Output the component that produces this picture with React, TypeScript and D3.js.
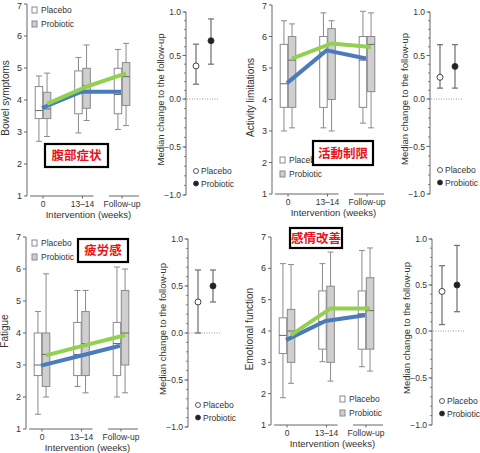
import React from 'react';
import * as d3 from 'd3';

const weeks = ['0', '13–14', 'Follow-up'];
const groups = ['Placebo', 'Probiotic'];
const boxTicks = [1, 2, 3, 4, 5, 6, 7];
const changeTicks = [-1, -0.5, 0, 0.5, 1];

// box stats per week: [min, q1, median, q3, max]
const bowelPlacebo = [[2.71, 3.42, 3.67, 4.42, 4.75], [2.97, 3.57, 4.2, 4.91, 5.33], [3.08, 3.57, 4.17, 4.99, 5.58]];
const bowelProbiotic = [[2.86, 3.42, 3.72, 4.24, 4.84], [3.36, 3.74, 4.45, 4.99, 5.72], [3.2, 3.83, 4.73, 5.17, 5.77]];
const bowelPlaceboTrend = [3.75, 4.26, 4.26];
const bowelProbioticTrend = [3.88, 4.42, 4.83];
// median change: [median, low, high]
const bowelChangePlacebo = [0.38, 0.17, 0.63];
const bowelChangeProbiotic = [0.67, 0.4, 0.92];

const activityPlacebo = [[3.0, 3.75, 4.5, 5.75, 6.5], [3.1, 3.75, 5.5, 6.0, 6.75], [3.25, 3.75, 5.25, 6.0, 6.8]];
const activityProbiotic = [[3.1, 3.75, 5.25, 6.0, 6.4], [3.0, 4.0, 5.75, 6.25, 6.5], [3.1, 4.25, 5.75, 6.0, 6.75]];
const activityPlaceboTrend = [4.52, 5.56, 5.3];
const activityProbioticTrend = [5.3, 5.78, 5.67];
const activityChangePlacebo = [0.25, 0.125, 0.625];
const activityChangeProbiotic = [0.375, 0.125, 0.625];

const fatiguePlacebo = [[1.46, 2.67, 3.0, 4.0, 4.67], [2.33, 2.67, 3.33, 4.33, 5.33], [2.0, 2.67, 3.67, 4.33, 6.06]];
const fatigueProbiotic = [[2.0, 2.33, 3.33, 4.0, 5.85], [2.13, 2.67, 3.67, 4.67, 5.33], [2.13, 3.0, 4.0, 5.33, 6.0]];
const fatiguePlaceboTrend = [2.98, 3.29, 3.6];
const fatigueProbioticTrend = [3.3, 3.62, 3.93];
const fatigueChangePlacebo = [0.33, 0, 0.67];
const fatigueChangeProbiotic = [0.5, 0.33, 0.67];

const emotionPlacebo = [[1.87, 3.28, 3.86, 4.42, 6.15], [3.02, 3.42, 4.3, 5.28, 6.15], [2.86, 3.42, 4.55, 5.28, 6.57]];
const emotionProbiotic = [[2.33, 3.0, 4.0, 4.69, 6.12], [2.4, 3.0, 4.72, 5.43, 6.52], [2.72, 3.42, 4.65, 5.7, 6.65]];
const emotionPlaceboTrend = [3.71, 4.32, 4.5];
const emotionProbioticTrend = [3.87, 4.72, 4.72];
const emotionChangePlacebo = [0.43, 0.07, 0.71];
const emotionChangeProbiotic = [0.5, 0.21, 0.93];

const FONT = '"Liberation Sans", Arial, sans-serif';
const CJK = '"Noto Sans CJK JP", "Noto Sans CJK SC", sans-serif';
const axisColor = '#666';
const textColor = '#333';
const boxStroke = '#8a8a8a';
const blue = '#4a7cbb';
const green = '#92d050';

const BoxPanel = ({ axisX, top, bottom, title, placebo, probiotic, placeboTrend, probioticTrend, legend, tag }) => {
  const y = d3.scaleLinear().domain([1, 7]).range([bottom, top]);
  const x = d3.scalePoint().domain(weeks).range([axisX + 16, axisX + 95]);
  const bw = 7.5;
  const line = (off) => d3.line().x((d, i) => x(weeks[i]) + off).y(d => y(d));

  const drawBox = (stats, i, side, fill) => {
    const cx = x(weeks[i]) + side * (bw / 2 + 0.3);
    const [mn, q1, md, q3, mx] = stats;
    return (
      <g key={`${side}-${i}`}>
        <line x1={cx} x2={cx} y1={y(mx)} y2={y(q3)} stroke={boxStroke} strokeWidth={1} />
        <line x1={cx} x2={cx} y1={y(q1)} y2={y(mn)} stroke={boxStroke} strokeWidth={1} />
        <line x1={cx - 3} x2={cx + 3} y1={y(mx)} y2={y(mx)} stroke={boxStroke} strokeWidth={1} />
        <line x1={cx - 3} x2={cx + 3} y1={y(mn)} y2={y(mn)} stroke={boxStroke} strokeWidth={1} />
        <rect x={cx - bw / 2} y={y(q3)} width={bw} height={y(q1) - y(q3)} fill={fill} stroke={boxStroke} strokeWidth={1} />
        <line x1={cx - bw / 2} x2={cx + bw / 2} y1={y(md)} y2={y(md)} stroke="#666" strokeWidth={1} />
      </g>
    );
  };

  const t1 = x(weeks[1]);
  const t2 = x(weeks[2]);
  return (
    <g fontFamily={FONT} fill={textColor}>
      <line x1={axisX} x2={axisX} y1={top} y2={bottom} stroke={axisColor} />
      {boxTicks.map(t => (
        <g key={t}>
          <line x1={axisX - 3} x2={axisX} y1={y(t)} y2={y(t)} stroke={axisColor} />
          <text x={axisX - 5} y={Math.max(y(t) + 3, 9)} fontSize={9} textAnchor="end">{t}</text>
        </g>
      ))}
      <text transform={`translate(${axisX - 18},${(top + bottom) / 2 - 2}) rotate(-90)`} fontSize={10} textAnchor="middle">{title}</text>
      <line x1={axisX + 3} x2={t1 + 11} y1={bottom} y2={bottom} stroke={axisColor} />
      <line x1={t2 - 13} x2={t2 + 17} y1={bottom} y2={bottom} stroke={axisColor} />
      {weeks.map(w => (
        <g key={w}>
          <line x1={x(w)} x2={x(w)} y1={bottom} y2={bottom + 2.5} stroke={axisColor} />
          <text x={x(w)} y={bottom + 11} fontSize={8.5} textAnchor="middle">{w}</text>
        </g>
      ))}
      <text x={(axisX + 16 + t2) / 2 + 6} y={bottom + 22} fontSize={9.5} textAnchor="middle">Intervention (weeks)</text>
      {placebo.map((s, i) => drawBox(s, i, -1, '#fff'))}
      {probiotic.map((s, i) => drawBox(s, i, 1, '#cfcfcf'))}
      <path d={line(-1)(placeboTrend)} fill="none" stroke={blue} strokeWidth={4} />
      <path d={line(4)(probioticTrend)} fill="none" stroke={green} strokeWidth={4} />
      {groups.map((g, i) => (
        <g key={g}>
          <rect x={legend[0]} y={legend[1] + i * 14 - 3} width={5} height={6} fill={i ? '#cfcfcf' : '#fff'} stroke={boxStroke} />
          <text x={legend[0] + 9} y={legend[1] + i * 14 + 3} fontSize={8.5}>{g}</text>
        </g>
      ))}
      <rect x={tag.x} y={tag.y} width={tag.w} height={tag.h} fill="#fff" stroke="#000" strokeWidth={2.2} />
      <text x={tag.x + tag.w / 2} y={tag.y + tag.h / 2 + 4.5} fontFamily={CJK} fontWeight="bold" fontSize={12.5} fill="#e8141b" textAnchor="middle">{tag.text}</text>
    </g>
  );
};

const ChangePanel = ({ axisX, range, placebo, probiotic, legendY }) => {
  const y = d3.scaleLinear().domain([-1, 0, 1]).range(range);
  const minor = d3.range(-10, 11).map(v => v / 10);
  const pts = [[placebo, axisX + 10, '#fff'], [probiotic, axisX + 25, '#222']];
  return (
    <g fontFamily={FONT} fill={textColor}>
      <line x1={axisX} x2={axisX} y1={y(1)} y2={y(-1)} stroke={axisColor} />
      {minor.map(v => (
        <line key={v} x1={axisX - 2} x2={axisX} y1={y(v)} y2={y(v)} stroke={axisColor} strokeWidth={0.8} />
      ))}
      {changeTicks.map(t => (
        <g key={t}>
          <line x1={axisX - 3.5} x2={axisX} y1={y(t)} y2={y(t)} stroke={axisColor} />
          <text x={axisX - 5} y={y(t) + 3} fontSize={8.5} textAnchor="end">{d3.format('.1f')(t).replace('-', '−')}</text>
        </g>
      ))}
      <line x1={axisX + 1} x2={axisX + 33} y1={y(0)} y2={y(0)} stroke="#999" strokeDasharray="1,1.5" />
      <text transform={`translate(${axisX - 22},${(range[0] + range[2]) / 2 - 4}) rotate(-90)`} fontSize={9.5} textAnchor="middle">Median change to the follow-up</text>
      {pts.map(([v, cx, fill], i) => (
        <g key={i}>
          <line x1={cx} x2={cx} y1={y(v[1])} y2={y(v[2])} stroke="#777" strokeWidth={1.3} />
          <line x1={cx - 3} x2={cx + 3} y1={y(v[1])} y2={y(v[1])} stroke="#777" strokeWidth={1.3} />
          <line x1={cx - 3} x2={cx + 3} y1={y(v[2])} y2={y(v[2])} stroke="#777" strokeWidth={1.3} />
          <circle cx={cx} cy={y(v[0])} r={3} fill={fill} stroke="#333" strokeWidth={0.9} />
        </g>
      ))}
      {groups.map((g, i) => (
        <g key={g}>
          <circle cx={axisX + 10} cy={legendY + i * 12.5} r={2.5} fill={i ? '#222' : '#fff'} stroke="#333" strokeWidth={0.8} />
          <text x={axisX + 15} y={legendY + i * 12.5 + 3} fontSize={8.5}>{g}</text>
        </g>
      ))}
    </g>
  );
};

export default function App() {
  return (
    <svg width={480} height={453} style={{ position: 'absolute', left: 0, top: 0, background: '#fff' }}>
      <BoxPanel axisX={27} top={4} bottom={196} title="Bowel symptoms"
        placebo={bowelPlacebo} probiotic={bowelProbiotic}
        placeboTrend={bowelPlaceboTrend} probioticTrend={bowelProbioticTrend}
        legend={[32, 10]} tag={{ x: 45, y: 144, w: 63, h: 23, text: '腹部症状' }} />
      <ChangePanel axisX={186} range={[195, 99, 12]} placebo={bowelChangePlacebo} probiotic={bowelChangeProbiotic} legendY={171} />

      <BoxPanel axisX={272} top={5} bottom={194} title="Activity limitations"
        placebo={activityPlacebo} probiotic={activityProbiotic}
        placeboTrend={activityPlaceboTrend} probioticTrend={activityProbioticTrend}
        legend={[280, 160]} tag={{ x: 313, y: 141, w: 60, h: 24, text: '活動制限' }} />
      <ChangePanel axisX={430} range={[194, 99, 12]} placebo={activityChangePlacebo} probiotic={activityChangeProbiotic} legendY={170} />

      <BoxPanel axisX={26} top={237} bottom={429} title="Fatigue"
        placebo={fatiguePlacebo} probiotic={fatigueProbiotic}
        placeboTrend={fatiguePlaceboTrend} probioticTrend={fatigueProbioticTrend}
        legend={[32, 243]} tag={{ x: 78, y: 239, w: 50, h: 23, text: '疲労感' }} />
      <ChangePanel axisX={188} range={[427, 333, 239]} placebo={fatigueChangePlacebo} probiotic={fatigueChangeProbiotic} legendY={405} />

      <BoxPanel axisX={271} top={237} bottom={425} title="Emotional function"
        placebo={emotionPlacebo} probiotic={emotionProbiotic}
        placeboTrend={emotionPlaceboTrend} probioticTrend={emotionProbioticTrend}
        legend={[340, 399]} tag={{ x: 290, y: 228, w: 52, h: 20, text: '感情改善' }} />
      <ChangePanel axisX={432} range={[425, 331, 239]} placebo={emotionChangePlacebo} probiotic={emotionChangeProbiotic} legendY={401} />
    </svg>
  );
}
